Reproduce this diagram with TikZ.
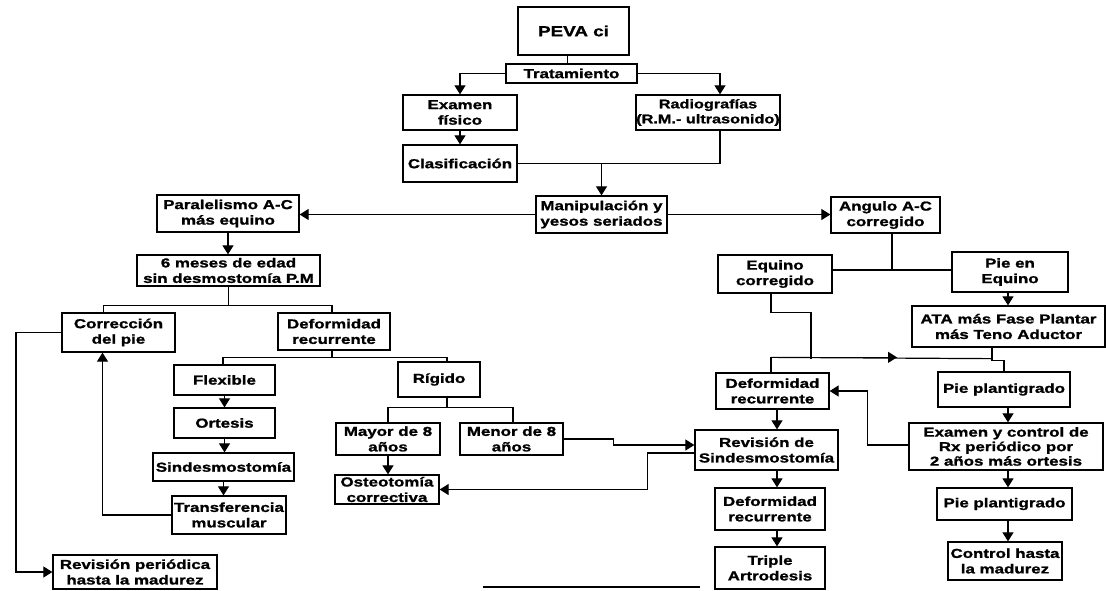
\documentclass[tikz,border=0pt]{standalone}
\usepackage{fontspec}
\setmainfont{Liberation Sans}[FakeStretch=1.3,BoldFeatures={FakeBold=1.3}]
\usetikzlibrary{arrows.meta,calc}
\begin{document}
\begin{tikzpicture}[x=1pt,y=-1pt,
 box/.style={draw,line width=1.3pt,inner sep=0pt,align=center,font=\fontsize{13}{15.5}\selectfont\bfseries},
 conn/.style={line width=1.2pt},
 arr/.style={conn,-{Triangle[width=11pt,length=9pt]}}]
\useasboundingbox (0,0) rectangle (1106,590);
% nodes
\node[box,font=\fontsize{14.5}{17}\selectfont\bfseries,minimum width=111pt,minimum height=48pt] (peva) at (573.5,31) {PEVA ci};
\node[box,minimum width=131pt,minimum height=19pt] (trat) at (571.5,73.5) {Tratamiento};
\node[box,minimum width=114pt,minimum height=35pt] (exam) at (460,112.5) {Examen\\físico};
\node[box,font=\fontsize{12.5}{15}\selectfont\bfseries,minimum width=144pt,minimum height=35pt] (radio) at (708,112.5) {Radiografías\\(R.M.- ultrasonido)};
\node[box,minimum width=114pt,minimum height=37pt] (clasif) at (460,163.5) {Clasificación};
\node[box,minimum width=131pt,minimum height=37pt] (manip) at (601.5,214.5) {Manipulación y\\yesos seriados};
\node[box,minimum width=142pt,minimum height=37pt] (paral) at (228,213.5) {Paralelismo A-C\\más equino};
\node[box,minimum width=109pt,minimum height=36pt] (angulo) at (885.5,215) {Angulo A-C\\corregido};
\node[box,minimum width=183pt,minimum height=31pt] (seis) at (228.5,270.5) {6 meses de edad\\sin desmostomía P.M};
\node[box,minimum width=113pt,minimum height=39pt] (correc) at (118.5,332.5) {Corrección\\del pie};
\node[box,minimum width=112pt,minimum height=37pt] (deforL) at (334,331.5) {Deformidad\\recurrente};
\node[box,minimum width=101pt,minimum height=30pt] (flex) at (224.5,380) {Flexible};
\node[box,minimum width=82pt,minimum height=35pt] (rigido) at (439,379.5) {Rígido};
\node[box,minimum width=101pt,minimum height=30pt] (ortesis) at (224.5,423) {Ortesis};
\node[box,minimum width=104pt,minimum height=32pt] (mayor) at (388,439) {Mayor de 8\\años};
\node[box,minimum width=103pt,minimum height=32pt] (menor) at (511.5,439) {Menor de 8\\años};
\node[box,minimum width=141pt,minimum height=28pt] (sindes) at (223.5,467) {Sindesmostomía};
\node[box,minimum width=114pt,minimum height=38pt] (transf) at (229,515) {Transferencia\\muscular};
\node[box,minimum width=104pt,minimum height=29pt] (osteo) at (387,489.5) {Osteotomía\\correctiva};
\node[box,minimum width=164pt,minimum height=34pt] (revper) at (135,572) {Revisión periódica\\hasta la madurez};
\node[box,minimum width=114pt,minimum height=38pt] (equino) at (775,274) {Equino\\corregido};
\node[box,minimum width=116pt,minimum height=40pt] (pieeq) at (1010,272) {Pie en\\Equino};
\node[box,minimum width=193pt,minimum height=41pt] (ata) at (1008.5,326.5) {ATA más Fase Plantar\\más Teno Aductor};
\node[box,minimum width=113pt,minimum height=36pt] (deforR) at (772.5,391) {Deformidad\\recurrente};
\node[box,minimum width=132pt,minimum height=35pt] (pp1) at (1004,389.5) {Pie plantigrado};
\node[box,minimum width=143pt,minimum height=40pt] (revsind) at (766.5,450) {Revisión de\\Sindesmostomía};
\node[box,minimum width=194pt,minimum height=47pt,font=\fontsize{13}{14.5}\selectfont\bfseries] (exctrl) at (1006,446.5) {Examen y control de\\Rx periódico por\\2 años más ortesis};
\node[box,minimum width=110pt,minimum height=42pt] (deforR2) at (770,509) {Deformidad\\recurrente};
\node[box,minimum width=135pt,minimum height=32pt] (pp2) at (1004.5,504) {Pie plantigrado};
\node[box,minimum width=110pt,minimum height=42pt] (triple) at (770,568) {Triple\\Artrodesis};
\node[box,minimum width=114pt,minimum height=38pt] (control) at (1005,561) {Control hasta\\la madurez};
\coordinate (lft) at (16,0);
% connectors (top)
\draw[conn] ([xshift=-6pt]peva.south) -- ([xshift=-6pt]peva.south |- trat.north);
\draw[arr] (trat.west) -| (exam.north);
\draw[arr] (trat.east) -| ([xshift=12pt]radio.north);
\draw[arr] (exam.south) -- (clasif.north);
\draw[conn] (clasif.east) -| ([xshift=12pt]radio.south);
\draw[arr] (clasif.east -| manip.north) -- (manip.north);
\draw[arr] (manip.west) -- (manip.west -| paral.east);
\draw[arr] (manip.east) -- (manip.east -| angulo.west);
% left branch
\draw[arr] (paral.south) -- (paral.south |- seis.north);
\draw[conn] (seis.south) -- ++(0,19) coordinate (j1);
\draw[conn] (j1) -| ([xshift=-15pt]correc.north);
\draw[conn] (j1) -| ([xshift=-2pt]deforL.north);
\draw[conn] ([xshift=-2pt]deforL.south) -- ++(0,7) coordinate (j2);
\draw[conn] (j2) -| ([xshift=-1.5pt]flex.north);
\draw[conn] (j2) -| ([xshift=8pt]rigido.north);
\draw[arr] (flex.south) -- (ortesis.north);
\draw[arr] (ortesis.south) -- (ortesis.south |- sindes.north);
\draw[arr] (sindes.south) -- (sindes.south |- transf.north);
\draw[arr] (transf.west) -| ([xshift=-16pt]correc.south);
\draw[arr] (correc.west) -- (correc.west -| lft) |- (revper.west);
\draw[conn] ([xshift=8pt]rigido.south) -- ++(0,10) coordinate (j3);
\draw[conn] (j3) -| (mayor.north);
\draw[conn] (j3) -| ([xshift=1.5pt]menor.north);
\draw[arr] (mayor.south) -- (mayor.south |- osteo.north);
\draw[arr] (menor.east) -- ++(50,0) |- ([yshift=5pt]revsind.west);
\draw[arr] ([yshift=-3pt]revsind.west) -- ++(-47,0) |- (osteo.east);
% right branch
\draw[conn] ([yshift=4pt]equino.east) -- ([yshift=4pt]equino.east -| pieeq.west);
\draw[conn] ([xshift=6.5pt]angulo.south) -- ++(0,37);
\draw[conn] ([xshift=-4pt]equino.south) -- ++(0,19) -- ++(40,0) -- ++(0,46);
\draw[conn] ([xshift=-1.5pt]deforR.north) -- ++(0,-15) coordinate (j5);
\draw[conn] ([xshift=-16.5pt]ata.south) -- ++(0,11) coordinate (j6);
\draw[conn] (j5) -- (j6);
\draw[arr] (j5) -- ++(126,0);
\draw[conn] (j6) -- ++(0,2) -| (pp1.north);
\draw[arr] ([xshift=-2pt]pieeq.south) -- ([xshift=-2pt]pieeq.south |- ata.north);
\draw[arr] ([xshift=4pt]pp1.south) -- ([xshift=4pt]pp1.south |- exctrl.north);
\draw[arr] ([yshift=1.5pt]exctrl.west) -- ++(-41,0) |- (deforR.east);
\draw[arr] ([xshift=4.5pt]deforR.south) -- ([xshift=4.5pt]deforR.south |- revsind.north);
\draw[arr] ([xshift=10.5pt]revsind.south) -- ([xshift=10.5pt]revsind.south |- deforR2.north);
\draw[arr] ([xshift=7pt]deforR2.south) -- ([xshift=7pt]deforR2.south |- triple.north);
\draw[arr] ([xshift=2pt]exctrl.south) -- ([xshift=2pt]exctrl.south |- pp2.north);
\draw[arr] ([xshift=3.5pt]pp2.south) -- ([xshift=3.5pt]pp2.south |- control.north);
% rule at the bottom of the page
\draw[line width=1.5pt] (483,587) -- (700,587);
\end{tikzpicture}
\end{document}
